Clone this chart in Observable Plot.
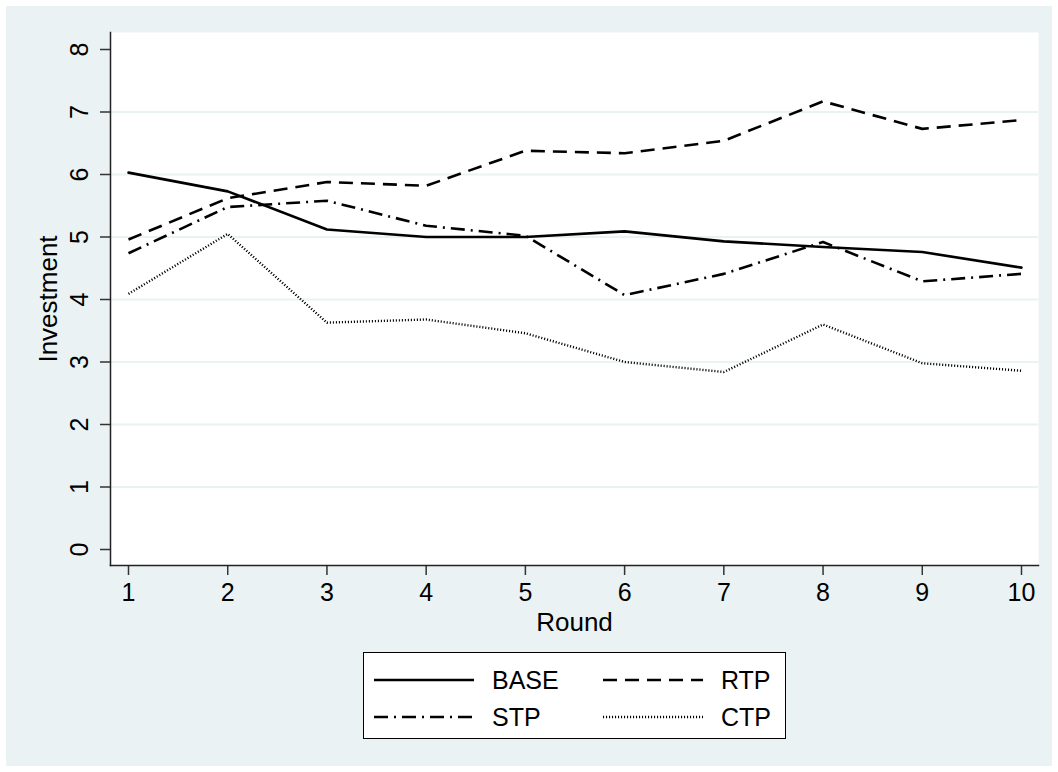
<!DOCTYPE html>
<html>
<head>
<meta charset="utf-8">
<script src="https://cdn.jsdelivr.net/npm/d3@7"></script>
<script src="https://cdn.jsdelivr.net/npm/@observablehq/plot@0.6"></script>
<style>
  html, body { margin: 0; padding: 0; background: #ffffff; }
  body { width: 1058px; height: 772px; position: relative; overflow: hidden; font-family: "Liberation Sans", Arial, Helvetica, sans-serif; }
  #bg { position: absolute; left: 6px; top: 6px; width: 1046px; height: 760px; background: #EAF2F3; }
  #chart { position: absolute; left: 0; top: 0; }
  #legend { position: absolute; left: 363px; top: 652px; width: 421px; height: 85px; border: 1px solid #000; background: #fff; }
</style>
</head>
<body>
<div id="bg"></div>
<div id="chart"></div>
<div id="legend"></div>
<script>
// ---- data ----
const rounds = [1, 2, 3, 4, 5, 6, 7, 8, 9, 10];
const base = [6.03, 5.73, 5.12, 5.00, 5.00, 5.09, 4.93, 4.84, 4.76, 4.51];
const rtp  = [4.96, 5.62, 5.88, 5.82, 6.38, 6.34, 6.54, 7.17, 6.73, 6.87];
const stp  = [4.74, 5.48, 5.58, 5.18, 5.02, 4.07, 4.41, 4.92, 4.29, 4.41];
const ctp  = [4.09, 5.05, 3.63, 3.68, 3.46, 3.00, 2.84, 3.60, 2.98, 2.86];
const seriesNames = ["BASE", "RTP", "STP", "CTP"];
const yTicks = [0, 1, 2, 3, 4, 5, 6, 7, 8];
const yGrid = [1, 2, 3, 4, 5, 6, 7];
const xTicks = rounds;

// ---- styles ----
const styles = {
  BASE: {dash: null, width: 2.6},
  RTP:  {dash: "14,8", width: 2.6},
  STP:  {dash: "14,6,2,6", width: 2.6},
  CTP:  {dash: "1.1,1.9", width: 2.4}
};
const values = {BASE: base, RTP: rtp, STP: stp, CTP: ctp};

const lineMarks = seriesNames.map(name => {
  const data = rounds.map((r, i) => ({round: r, value: values[name][i]}));
  const opts = {x: "round", y: "value", stroke: "#000", strokeWidth: styles[name].width, strokeLinejoin: "round"};
  if (styles[name].dash) { opts.strokeDasharray = styles[name].dash; opts.strokeLinecap = "butt"; }
  return Plot.line(data, opts);
});

const FONT = "'Liberation Sans', Arial, Helvetica, sans-serif";

const chart = Plot.plot({
  width: 1058,
  height: 640,
  marginLeft: 110,
  marginRight: 20,
  marginTop: 32,
  marginBottom: 75,
  style: {background: "transparent", fontFamily: FONT, color: "#000", overflow: "visible"},
  x: {domain: [1, 10], insetLeft: 18, insetRight: 17},
  y: {domain: [0, 8], insetTop: 17, insetBottom: 16},
  marks: [
    Plot.frame({fill: "#fff", stroke: null}),
    Plot.gridY(yGrid, {stroke: "#EAF2F3", strokeOpacity: 1, strokeWidth: 2}),
    Plot.axisY({ticks: yTicks, tickSize: 10, tickFormat: () => "", label: null, stroke: "#333", strokeWidth: 1.5}),
    Plot.text(yTicks, {y: d => d, text: d => String(d), frameAnchor: "left", dx: -31, rotate: -90, textAnchor: "middle", lineAnchor: "middle", fontSize: 25, fill: "#000"}),
    Plot.axisX({ticks: xTicks, tickSize: 10, tickPadding: 8, fontSize: 25, label: null, stroke: "#333", strokeWidth: 1.5, fill: "#000"}),
    Plot.text(["Investment"], {text: d => d, frameAnchor: "left", dx: -62, rotate: -90, textAnchor: "middle", lineAnchor: "middle", fontSize: 26, fill: "#000"}),
    Plot.text(["Round"], {text: d => d, frameAnchor: "bottom", dy: 57, textAnchor: "middle", lineAnchor: "middle", fontSize: 26, fill: "#000"}),
    ...lineMarks,
    Plot.frame({anchor: "left", stroke: "#222", strokeWidth: 1.5}),
    Plot.frame({anchor: "bottom", stroke: "#222", strokeWidth: 1.5})
  ]
});
document.getElementById("chart").appendChild(chart);

// ---- legend ----
const legend = d3.select("#legend").append("svg")
  .attr("width", 421).attr("height", 85)
  .style("display", "block");
const cells = [
  {name: "BASE", col: 0, row: 0},
  {name: "RTP", col: 1, row: 0},
  {name: "STP", col: 0, row: 1},
  {name: "CTP", col: 1, row: 1}
];
cells.forEach(c => {
  const x0 = 10 + c.col * 229;
  const cy = 27 + c.row * 37;
  const st = styles[c.name];
  const ln = legend.append("line")
    .attr("x1", x0).attr("x2", x0 + 100)
    .attr("y1", cy).attr("y2", cy)
    .attr("stroke", "#000").attr("stroke-width", st.width);
  if (st.dash) ln.attr("stroke-dasharray", st.dash);
  legend.append("text")
    .attr("x", x0 + 118).attr("y", cy)
    .attr("dy", "0.36em")
    .attr("font-size", 25)
    .attr("font-family", FONT)
    .attr("fill", "#000")
    .text(c.name);
});
</script>
</body>
</html>
